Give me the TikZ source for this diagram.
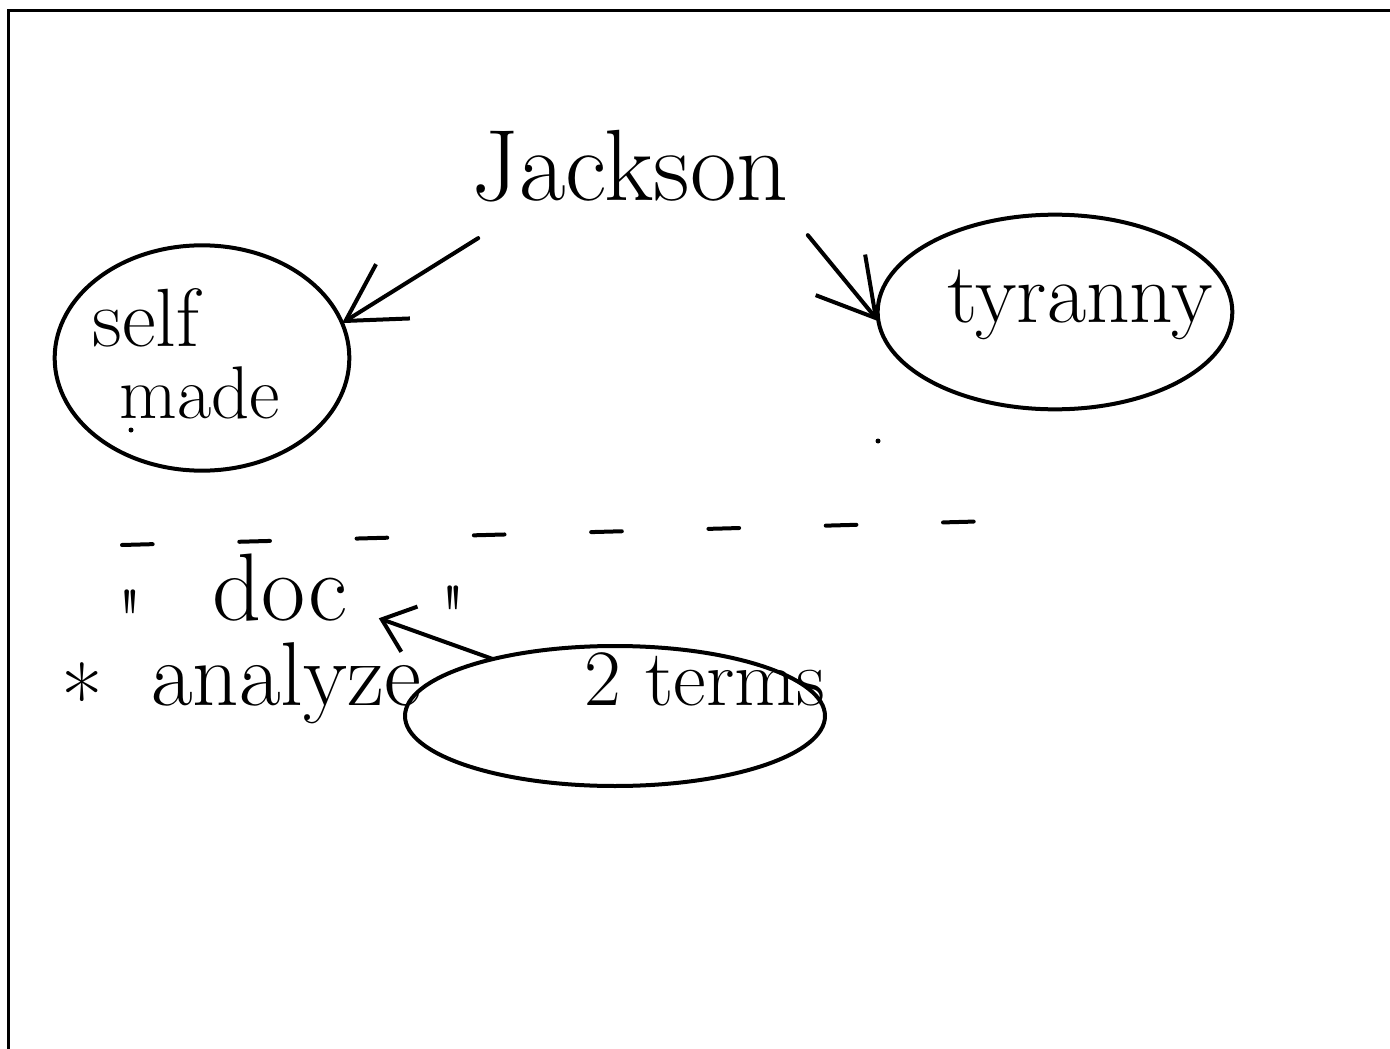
\documentclass[tikz,border=0pt]{standalone}
\usepackage{fontspec}
\newfontfamily\plainlm{Latin Modern Roman}
\usetikzlibrary{arrows.meta,shapes.geometric,calc}

\tikzset{every picture/.style={line width=0.75pt}}
\tikzset{
  ink/.style={line width=3pt, line cap=round, line join=round},
  ring/.style={ellipse, draw, ink, inner sep=0pt, outer sep=0pt},
  word/.style={inner sep=0.75pt, font=\fontsize{#1}{#1}\selectfont},
  bigbarb/.style={-{Straight Barb[length=42pt,width=48pt]}},
  smallbarb/.style={-{Straight Barb[length=22pt,width=36pt]}}
}

\begin{document}
\begin{tikzpicture}[x=0.75pt,y=0.75pt,yscale=-1,xscale=1]
	\useasboundingbox (0,0) rectangle (1390,1049);
	%Shape: Frame
	\draw [line width=2.25pt] (8.5,1049) -- (8.5,11) -- (1390,11) ;

	%Words
	\node [word=76pt, anchor=base] (jackson) at (630,200) {Jackson};
	\node [word=62pt, anchor=base] (selfword) at (146,346) {self};
	\node [word=56pt, anchor=base] (madeword) at (200,418) {made};
	\node [word=64pt, anchor=base] (tyrannyword) at (1080,322) {tyranny};
	\node [word=64pt, anchor=north] (lquote) at (130,588) {\plainlm "};
	\node [word=72pt, anchor=base] (docword) at (280,620) {doc};
	\node [word=64pt, anchor=north] (rquote) at (453,584) {\plainlm "};
	\node [word=68pt, anchor=base west] (analyzeword) at (60,705) {\raisebox{-0.28em}{*}\hspace{36pt}analyze};
	\node [word=60pt, anchor=base west] (termsword) at (583,705) {2 terms};

	%Shape: Ellipse
	\node [ring, minimum width=221pt, minimum height=169pt] (selfring) at (202,358) {};
	\node [ring, minimum width=266pt, minimum height=146pt] (tyrannyring) at (1055,312) {};
	\node [ring, minimum width=315pt, minimum height=105pt] (termsring) at (615,716) {};

	%Arrows
	\draw [ink, bigbarb] ($(jackson.south west)+(8,35)$) -- (selfring.14) ;
	\draw [ink, bigbarb] ($(jackson.south east)+(18,32)$) -- (tyrannyring.183) ;
	\draw [ink, smallbarb] (termsring.155) -- ($(docword.south east)+(30,-4)$) ;

	%Dashed divider
	\draw [ink, dash pattern=on 23pt off 65pt] (122,545) -- (995,521) ;
	%Dots
	\fill (131,430) circle (2.5) ;
	\fill (878,441) circle (2.5) ;

\end{tikzpicture}
\end{document}
